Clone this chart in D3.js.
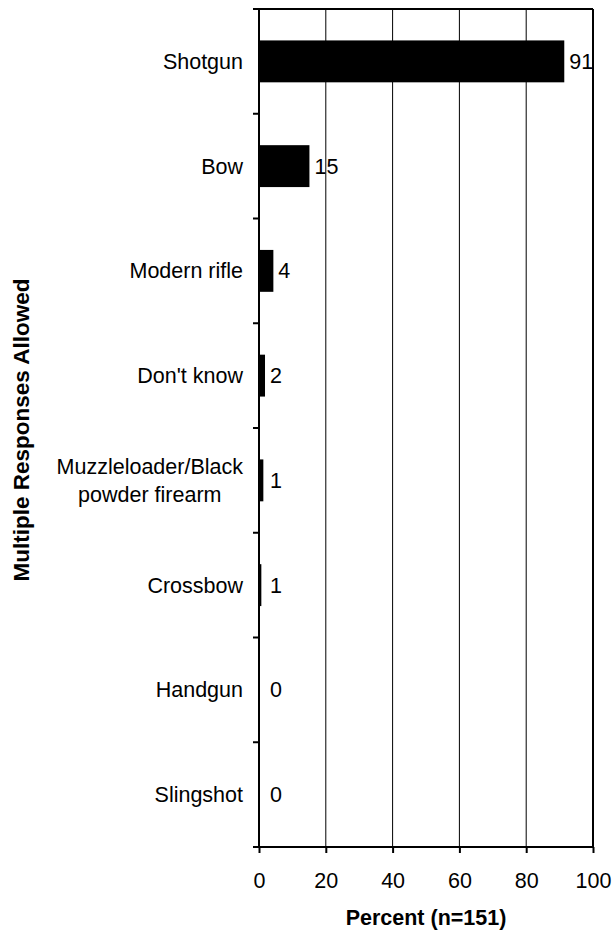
<!DOCTYPE html>
<html>
<head>
<meta charset="utf-8">
<script src="https://cdn.jsdelivr.net/npm/d3@7"></script>
<style>
	body { margin: 0; background: #fff; }
	text { font-family: "Liberation Sans", Arial, sans-serif; fill: #000; }
</style>
</head>
<body>
<div id="chart"></div>
<script>

// data
let categories = ["Shotgun", "Bow", "Modern rifle", "Don't know",
	"Muzzleloader/Black powder firearm", "Crossbow", "Handgun", "Slingshot"];
let percents = [91.4, 15.1, 4.3, 1.8, 1.3, 0.7, 0, 0];
let xTicks = [0, 20, 40, 60, 80, 100];

let xTitle = "Percent (n=151)";
let yTitle = "Multiple Responses Allowed";

let width = 613,
	height = 932;

let plotLeft = 259, plotRight = 593, plotTop = 9, plotBottom = 847;
let fontSize = 21.5;

let svg = d3.select("#chart")
	.append("svg")
		.attr("width", width)
		.attr("height", height);

let x = d3.scaleLinear()
	.domain([0, 100])
	.range([plotLeft, plotRight]);

let y = d3.scaleBand()
	.domain(categories)
	.range([plotTop, plotBottom])
	.paddingInner(0.6)
	.paddingOuter(0.3);

// band edges for the little ticks on the left axis
let step = (plotBottom - plotTop) / categories.length;
let bandEdges = d3.range(categories.length + 1).map(i => plotTop + i * step);

// vertical grid lines
svg.append("g")
	.selectAll("line")
	.data(xTicks.slice(1, -1))
	.enter()
	.append("line")
		.attr("x1", d => x(d))
		.attr("x2", d => x(d))
		.attr("y1", plotTop)
		.attr("y2", plotBottom)
		.attr("stroke", "#000")
		.attr("stroke-width", 1);

// bars
svg.append("g")
	.selectAll("rect")
	.data(percents)
	.enter()
	.append("rect")
		.attr("x", x(0))
		.attr("y", (d, i) => y(categories[i]))
		.attr("width", d => x(d) - x(0))
		.attr("height", y.bandwidth())
		.attr("fill", "#000");

// plot frame: top and right
svg.append("line")
	.attr("x1", plotLeft - 6).attr("x2", plotRight)
	.attr("y1", plotTop).attr("y2", plotTop)
	.attr("stroke", "#000").attr("stroke-width", 2);

svg.append("line")
	.attr("x1", plotRight).attr("x2", plotRight)
	.attr("y1", plotTop).attr("y2", plotBottom)
	.attr("stroke", "#000").attr("stroke-width", 2);

// x axis
let xAxis = svg.append("g")
	.attr("transform", "translate(0," + plotBottom + ")")
	.call(d3.axisBottom(x)
		.tickValues(xTicks)
		.tickSize(6)
		.tickSizeOuter(0)
		.tickPadding(20));

xAxis.select(".domain")
	.attr("d", "M" + (plotLeft - 6) + ",0H" + plotRight)
	.attr("stroke", "#000")
	.attr("stroke-width", 2);

xAxis.selectAll(".tick line")
	.attr("stroke", "#000")
	.attr("stroke-width", 2);

xAxis.selectAll(".tick text")
	.attr("font-size", fontSize)
	.attr("font-family", "Liberation Sans, Arial, sans-serif")
	.attr("fill", "#000");

// y axis line and ticks between categories
svg.append("line")
	.attr("x1", plotLeft).attr("x2", plotLeft)
	.attr("y1", plotTop).attr("y2", plotBottom)
	.attr("stroke", "#000").attr("stroke-width", 2);

svg.append("g")
	.selectAll("line")
	.data(bandEdges)
	.enter()
	.append("line")
		.attr("x1", plotLeft - 6)
		.attr("x2", plotLeft)
		.attr("y1", d => d)
		.attr("y2", d => d)
		.attr("stroke", "#000")
		.attr("stroke-width", 2);

// category labels, wrapped and centred as a block, right aligned to the axis
let labelRight = plotLeft - 16;
let lineHeight = 28;

categories.forEach(function(cat) {
	let g = svg.append("g");
	let words = cat.split(" ");
	let lines = [];
	let current = "";
	let probe = g.append("text").attr("font-size", fontSize);

	words.forEach(function(w) {
		let test = current ? current + " " + w : w;
		probe.text(test);
		if (probe.node().getComputedTextLength() > 205 && current) {
			lines.push(current);
			current = w;
		} else {
			current = test;
		}
	});
	lines.push(current);

	let widths = lines.map(function(l) {
		probe.text(l);
		return probe.node().getComputedTextLength();
	});
	probe.remove();

	let maxW = d3.max(widths);
	let cy = y(cat) + y.bandwidth() / 2;
	let firstY = cy - (lines.length - 1) * lineHeight / 2;

	lines.forEach(function(l, i) {
		g.append("text")
			.attr("x", labelRight - maxW / 2)
			.attr("y", firstY + i * lineHeight)
			.attr("dy", "0.35em")
			.attr("text-anchor", "middle")
			.attr("font-size", fontSize)
			.text(l);
	});
});

// value labels
svg.append("g")
	.selectAll("text")
	.data(percents)
	.enter()
	.append("text")
		.attr("x", d => Math.max(x(d) + 5, x(0) + 11))
		.attr("y", (d, i) => y(categories[i]) + y.bandwidth() / 2)
		.attr("dy", "0.35em")
		.attr("font-size", fontSize)
		.text(d => d3.format(".0f")(d));

// axis titles
svg.append("text")
	.attr("x", (plotLeft + plotRight) / 2)
	.attr("y", 925)
	.attr("text-anchor", "middle")
	.attr("font-size", fontSize)
	.attr("font-weight", "bold")
	.text(xTitle);

svg.append("text")
	.attr("transform", "translate(29," + ((plotTop + plotBottom) / 2 + 2) + ") rotate(-90)")
	.attr("text-anchor", "middle")
	.attr("font-size", 22.5)
	.attr("font-weight", "bold")
	.text(yTitle);

</script>
</body>
</html>
